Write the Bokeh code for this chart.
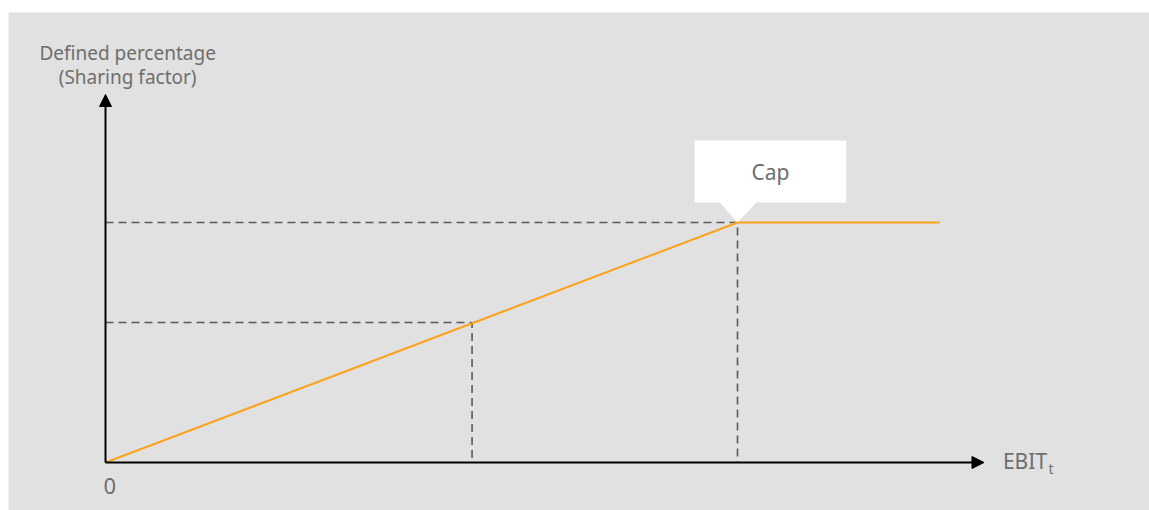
from bokeh.plotting import figure
from bokeh.models import Range1d, Arrow, NormalHead, Label
from bokeh.embed import file_html
from bokeh.resources import INLINE

# ---- data (schematic units) ----
origin = (0, 0)
sample_x = 58        # EBIT level of the intermediate example
sample_y = 35        # sharing factor at the example
cap_x = 100          # EBIT level where the cap is reached
cap_y = 60           # capped sharing factor
line_end_x = 132     # end of the drawn curve
x_axis_end = 139     # x arrow tip
y_axis_end = 92      # y arrow tip

curve_x = [origin[0], cap_x, line_end_x]
curve_y = [origin[1], cap_y, cap_y]

y_title = ["Defined percentage", "(Sharing factor)"]
x_title = "EBIT"
x_sub = "t"
cap_text = "Cap"
zero_text = "0"

BG = "#e1e1e1"
ORANGE = "#fca21c"
TXT = "#6e6e6e"
DASH = "#5a5a5a"
FONT = "Noto Sans"

p = figure(width=1149, height=510, output_backend="svg", toolbar_location=None,
           x_range=Range1d(-15.35, 165.19), y_range=Range1d(-12, 112.5),
           min_border_left=8, min_border_right=0, min_border_top=12, min_border_bottom=0,
           background_fill_color=BG, border_fill_color="white", outline_line_color=None)
p.axis.visible = False
p.grid.visible = False

# dashed guides
p.line([origin[0], cap_x, cap_x], [cap_y, cap_y, origin[1]], line_color=DASH,
       line_width=1.6, line_dash="8 5")
p.line([origin[0], sample_x, sample_x], [sample_y, sample_y, origin[1]], line_color=DASH,
       line_width=1.6, line_dash="8 5")

# curve
p.line(curve_x, curve_y, line_color=ORANGE, line_width=2)

# axes arrows
p.add_layout(Arrow(end=NormalHead(size=12, fill_color="black", line_color="black"),
                   x_start=origin[0], y_start=origin[1], x_end=x_axis_end, y_end=origin[1],
                   line_color="black", line_width=2))
p.add_layout(Arrow(end=NormalHead(size=12, fill_color="black", line_color="black"),
                   x_start=origin[0], y_start=origin[1], x_end=origin[0], y_end=y_axis_end,
                   line_color="black", line_width=2))

# callout box for Cap
bx0, bx1 = cap_x - 6.8, cap_x + 17.2
by0, by1 = cap_y + 5, cap_y + 20.5
p.quad(left=[bx0], right=[bx1], bottom=[by0], top=[by1], fill_color="white", line_color=None)
p.patch([cap_x - 2.9, cap_x + 3.1, cap_x], [by0 + 0.2, by0 + 0.2, cap_y], fill_color="white",
        line_color=None)

p.add_layout(Label(x=(bx0 + bx1) / 2, y=(by0 + by1) / 2, text=cap_text, text_align="center",
                   text_baseline="middle", text_font=FONT, text_font_size="21px", text_color=TXT))

# axis titles
p.add_layout(Label(x=origin[0] + 3.5, y=y_axis_end + 10.5, text=y_title[0], text_align="center",
                   text_baseline="middle", text_font=FONT, text_font_size="19px", text_color=TXT))
p.add_layout(Label(x=origin[0] + 3.5, y=y_axis_end + 4.5, text=y_title[1], text_align="center",
                   text_baseline="middle", text_font=FONT, text_font_size="19px", text_color=TXT))

p.add_layout(Label(x=x_axis_end + 3, y=origin[1] + 0.3, text=x_title, text_align="left",
                   text_baseline="middle", text_font=FONT, text_font_size="21px", text_color=TXT))
p.add_layout(Label(x=x_axis_end + 10.2, y=origin[1] - 1.6, text=x_sub, text_align="left",
                   text_baseline="middle", text_font=FONT, text_font_size="14px", text_color=TXT))

p.add_layout(Label(x=origin[0] - 0.3, y=origin[1] - 5.8, text=zero_text, text_align="left",
                   text_baseline="middle", text_font=FONT, text_font_size="22px", text_color=TXT))

open("out.html", "w").write(file_html(p, INLINE))
